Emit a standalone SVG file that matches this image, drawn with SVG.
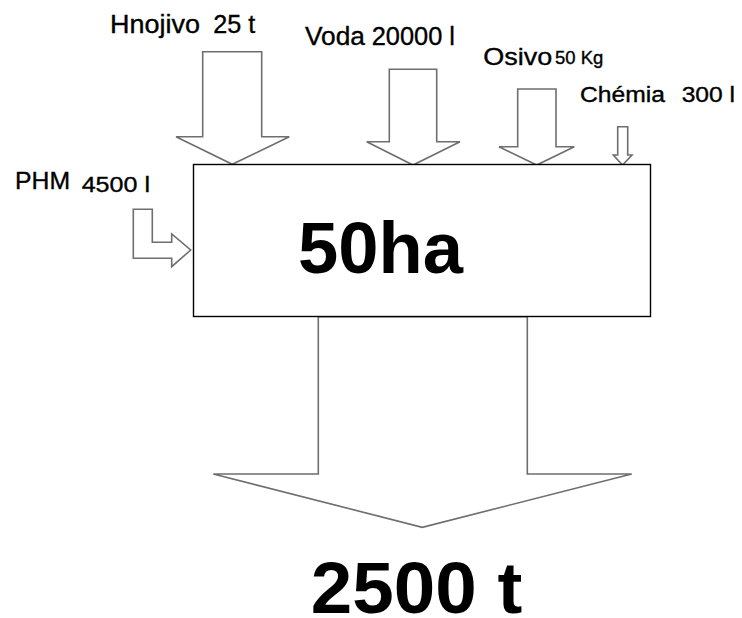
<svg xmlns="http://www.w3.org/2000/svg" width="742" height="618" viewBox="0 0 742 618">
<style>
.arr{fill:#fff;stroke:#6e6e6e;stroke-width:1.6;stroke-linejoin:miter}
.box{fill:#fff;stroke:#000;stroke-width:1.4}
.t{font-family:"Liberation Sans",Arial,sans-serif;fill:#000;stroke:#000;stroke-width:0.35}
.b{font-family:"Liberation Sans",Arial,sans-serif;font-weight:bold;fill:#000}
</style>
<rect width="742" height="618" fill="#fff"/>
<g id="connectors">
<polygon class="arr" points="318.3,316.7 527.3,316.7 527.3,474 631.7,474 422.3,527.3 213.3,474 318.3,474"/>
<polygon class="arr" points="202.7,51.7 261.7,51.7 261.7,136.7 289.3,136.7 232.3,164.3 176,136.7 202.7,136.7"/>
<polygon class="arr" points="389.3,69.3 436.7,69.3 436.7,141.7 460,141.7 413,165 366.7,141.7 389.3,141.7"/>
<polygon class="arr" points="517.7,89 556,89 556,146.7 574.3,146.7 536.7,165 499,146.7 517.7,146.7"/>
<polygon class="arr" points="617.7,126.7 627.7,126.7 627.7,155 632,155 622.5,165 613.3,155 617.7,155"/>
<polygon class="arr" points="133.3,209.3 152.3,209.3 152.3,242.3 171.7,242.3 171.7,234 190.7,250 171.7,266.7 171.7,258.3 133.3,258.3"/>
</g>
<g id="field">
<rect class="box" x="193.5" y="164.5" width="457" height="152"/>
<text class="b" x="298" y="272.5" font-size="73" textLength="165" lengthAdjust="spacingAndGlyphs">50ha</text>
</g>
<g id="output">
<text class="b" x="310.7" y="612.5" font-size="72" textLength="211.6" lengthAdjust="spacingAndGlyphs">2500 t</text>
</g>
<g id="hnojivo">
<text class="t" x="110" y="33" font-size="25" textLength="90" lengthAdjust="spacingAndGlyphs">Hnojivo</text>
<text class="t" x="213.3" y="33" font-size="25" textLength="42" lengthAdjust="spacingAndGlyphs">25 t</text>
</g>
<g id="voda">
<text class="t" x="305" y="45" font-size="26" textLength="60" lengthAdjust="spacingAndGlyphs">Voda</text>
<text class="t" x="371.7" y="45" font-size="26" textLength="83.3" lengthAdjust="spacingAndGlyphs">20000 l</text>
</g>
<g id="osivo">
<text class="t" x="483.3" y="65" font-size="24.5" textLength="69" lengthAdjust="spacingAndGlyphs">Osivo</text>
<text class="t" x="555" y="64" font-size="18" fill="#2b2b2b" stroke-width="0.2" textLength="48.3" lengthAdjust="spacingAndGlyphs">50 Kg</text>
</g>
<g id="chemia">
<text class="t" x="580" y="102" font-size="21.5" textLength="85" lengthAdjust="spacingAndGlyphs">Chémia</text>
<text class="t" x="681.7" y="102" font-size="21.5" textLength="53.3" lengthAdjust="spacingAndGlyphs">300 l</text>
</g>
<g id="phm">
<text class="t" x="15" y="189" font-size="24" textLength="55" lengthAdjust="spacingAndGlyphs">PHM</text>
<text class="t" x="81.7" y="192.3" font-size="22" textLength="68.3" lengthAdjust="spacingAndGlyphs">4500 l</text>
</g>
</svg>
